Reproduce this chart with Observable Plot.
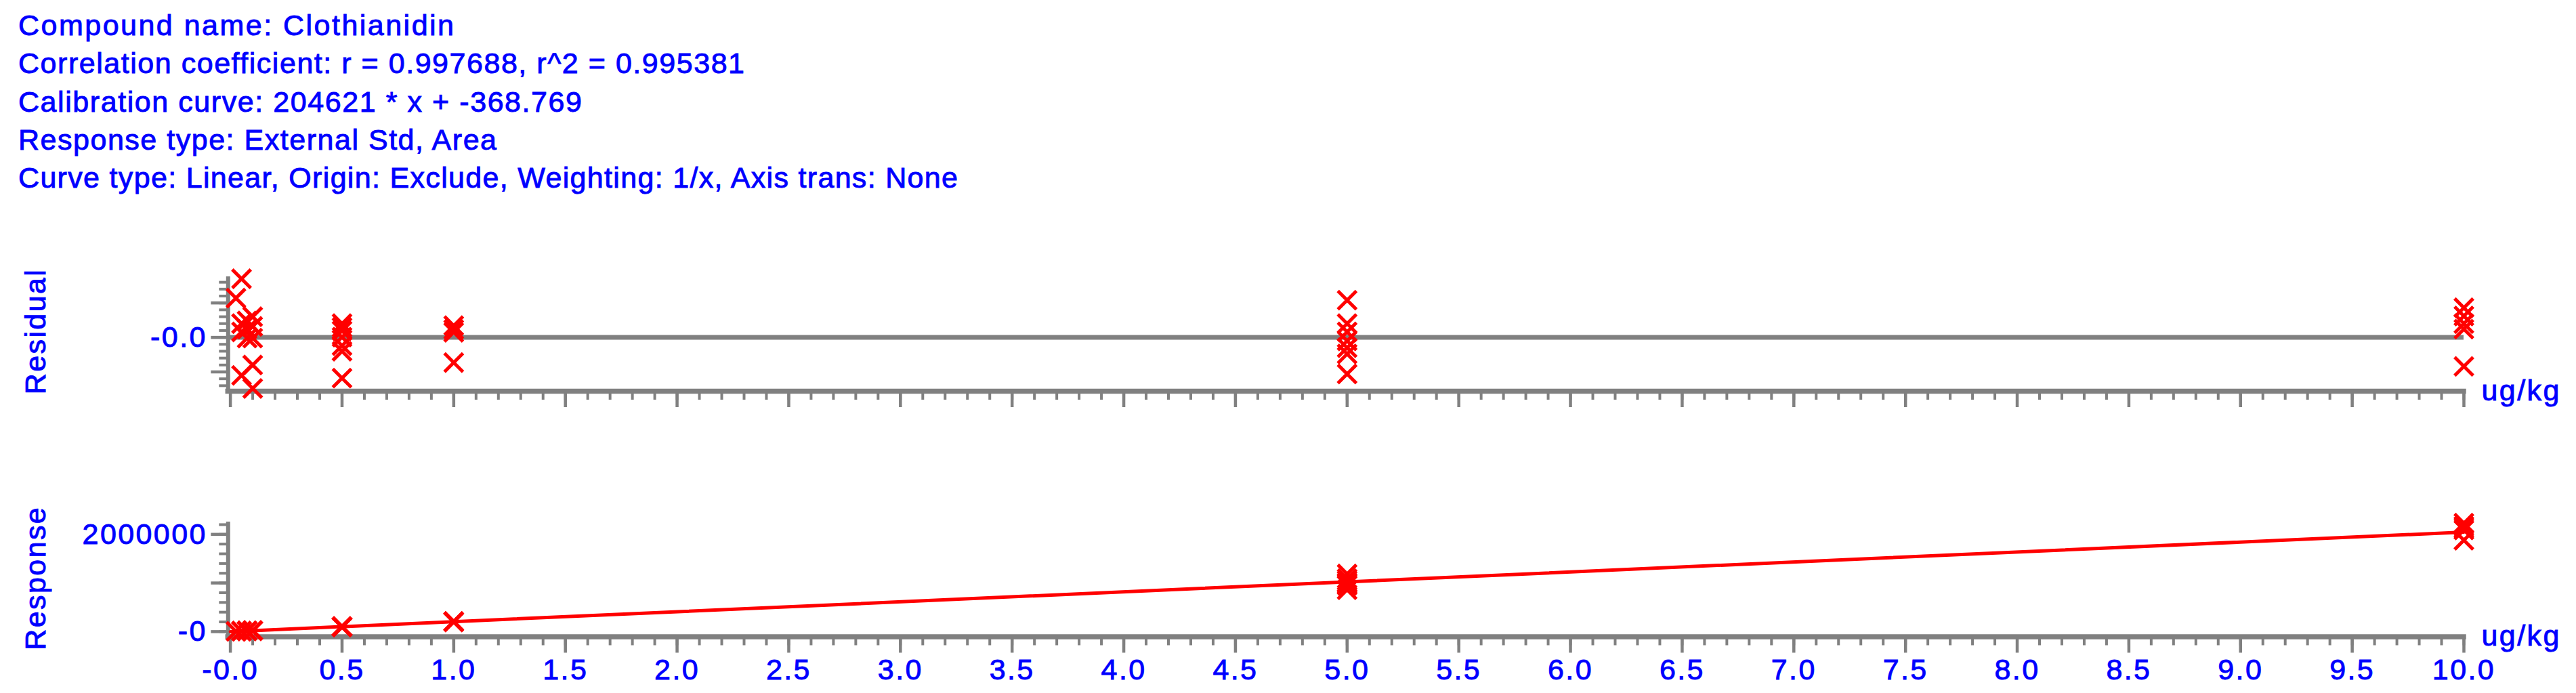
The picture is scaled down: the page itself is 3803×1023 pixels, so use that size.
<!DOCTYPE html>
<html>
<head>
<meta charset="utf-8">
<script src="https://cdn.jsdelivr.net/npm/d3@7"></script>
<script src="https://cdn.jsdelivr.net/npm/@observablehq/plot@0.6"></script>
<style>
html, body { margin: 0; padding: 0; background: #ffffff; }
#root { position: relative; width: 3803px; height: 1023px; overflow: hidden; background: #ffffff; }
#header { position: absolute; left: 0; top: 0; }
#header text { font-family: "Liberation Sans", Arial, sans-serif; font-size: 43px; fill: #0000ff;
  stroke: #0000ff; stroke-width: 0.9px; }
.panel { position: absolute; left: 0; }
.panel svg text { font-family: "Liberation Sans", Arial, sans-serif; font-size: 43px; letter-spacing: 2.4px;
  stroke: #0000ff; stroke-width: 0.9px; }
</style>
</head>
<body>
<div id="root">
  <svg id="header" width="1600" height="300"></svg>
  <div id="residPanel" class="panel" style="top:380px"></div>
  <div id="respPanel" class="panel" style="top:740px"></div>
</div>
<script>
// ---------- data ----------
const headerLines = [
  "Compound name: Clothianidin",
  "Correlation coefficient: r = 0.997688, r^2 = 0.995381",
  "Calibration curve: 204621 * x + -368.769",
  "Response type: External Std, Area",
  "Curve type: Linear, Origin: Exclude, Weighting: 1/x, Axis trans: None"
];

const residConc = [0.025, 0.05, 0.05, 0.05, 0.05, 0.075, 0.075, 0.075,
  0.1, 0.1, 0.1, 0.1, 0.1,
  0.5, 0.5, 0.5, 0.5, 0.5, 0.5, 0.5,
  1, 1, 1, 1,
  5, 5, 5, 5, 5, 5, 5,
  10, 10, 10, 10, 10];
const residValues = [5.7, 8.5, 2.0, 0.8, -5.5, 2.4, 1.2, -0.1,
  3.0, 1.6, -0.1, -4.0, -7.4,
  2.0, 1.45, 0.95, 0.05, -1.2, -2.0, -5.9,
  1.7, 1.15, 0.75, -3.65,
  5.4, 2.0, 0.8, -0.5, -1.5, -2.4, -5.3,
  4.3, 3.1, 2.0, 1.2, -4.2];

const respConc = residConc;
const respValues = [5500, 11200, 10400, 10200, 9600, 15700, 15300, 15200,
  21100, 20700, 20400, 19600, 18900,
  104600, 103700, 103000, 102200, 101000, 100100, 96300,
  207800, 206700, 205800, 196700,
  1185000, 1090000, 1050000, 1010000, 980000, 950000, 860000,
  2230000, 2170000, 2130000, 2090000, 1880000];

const calibConc = [0, 10];
const calibResponse = [-368.769, 2045841.231];

const xMajorTicks = [0, 0.5, 1, 1.5, 2, 2.5, 3, 3.5, 4, 4.5, 5, 5.5, 6, 6.5, 7, 7.5, 8, 8.5, 9, 9.5, 10];
const xMajorLabels = ["-0.0", "0.5", "1.0", "1.5", "2.0", "2.5", "3.0", "3.5", "4.0", "4.5", "5.0",
  "5.5", "6.0", "6.5", "7.0", "7.5", "8.0", "8.5", "9.0", "9.5", "10.0"];
const residMajorTicks = [-5, 0, 5];
const residMajorLabels = ["", "-0.0", ""];
const respMajorTicks = [0, 1000000, 2000000];
const respMajorLabels = ["-0", "", "2000000"];
const residTitle = "Residual";
const respTitle = "Response";
const unitLabel = "ug/kg";

// ---------- layout & style ----------
const GRAY = "#808080", RED = "#ff0000", BLUE = "#0000ff";
const W = 3803, ML = 336.3, MR = 166;
const xDomain = [-0.01, 10];
const residDomain = [-7.8, 8.8];
const respDomain = [-106000, 2255000];
const headerX = 27, headerBaseline0 = 51.7, headerStep = 56.4;
const headerWidths = [643, 1072, 832, 706, 1387];

// header text lines
const header = d3.select("#header");
header.selectAll("text").data(headerLines).join("text")
  .attr("x", headerX)
  .attr("y", (d, i) => headerBaseline0 + i * headerStep)
  .attr("textLength", (d, i) => headerWidths[i])
  .attr("lengthAdjust", "spacing")
  .text(d => d);

const residData = residConc.map((c, i) => ({conc: c, value: residValues[i]}));
const respData = respConc.map((c, i) => ({conc: c, value: respValues[i]}));
const calibData = calibConc.map((c, i) => ({conc: c, value: calibResponse[i]}));

const lookup = (ticks, labels) => d => { const k = ticks.findIndex(t => Math.abs(t - d) < 1e-9); return k < 0 ? "" : labels[k]; };

function xAxes(withLabels) {
  return [
    Plot.axisX({ticks: d3.ticks(0, 10, 100), tickSize: 13, tickFormat: () => "", stroke: GRAY, strokeWidth: 4, label: null}),
    Plot.axisX({ticks: xMajorTicks, tickSize: 24, tickPadding: 8,
      tickFormat: withLabels ? lookup(xMajorTicks, xMajorLabels) : () => "",
      stroke: GRAY, strokeWidth: 4.5, fill: BLUE, fontSize: 43, label: null})
  ];
}

const residPlot = Plot.plot({
  width: W, height: 240, marginLeft: ML, marginRight: MR, marginTop: 28, marginBottom: 43,
  x: {domain: xDomain, label: null},
  y: {domain: residDomain, label: null},
  marks: [
    ...xAxes(false),
    Plot.axisY({ticks: d3.range(-7, 9), tickSize: 13, tickFormat: () => "", stroke: GRAY, strokeWidth: 4, label: null}),
    Plot.axisY({ticks: residMajorTicks, tickSize: 25, tickPadding: 6, tickFormat: lookup(residMajorTicks, residMajorLabels),
      stroke: GRAY, strokeWidth: 4.5, fill: BLUE, fontSize: 43, label: null}),
    Plot.ruleY([0], {stroke: GRAY, strokeWidth: 7}),
    Plot.ruleX([xDomain[0]], {stroke: GRAY, strokeWidth: 6}),
    Plot.ruleY([residDomain[0]], {stroke: GRAY, strokeWidth: 7.5, strokeLinecap: "square"}),
    Plot.text([residTitle], {frameAnchor: "left", rotate: -90, dx: -270, dy: -4, lineAnchor: "bottom", textAnchor: "middle", fill: BLUE, fontSize: 43}),
    Plot.text([unitLabel], {frameAnchor: "bottom-right", dx: 26, dy: 13, lineAnchor: "bottom", textAnchor: "start", fill: BLUE, fontSize: 43}),
    Plot.dot(residData, {x: "conc", y: "value", symbol: "times", r: 12.5, stroke: RED, strokeWidth: 5})
  ]
});
document.getElementById("residPanel").appendChild(residPlot);

const respPlot = Plot.plot({
  width: W, height: 283, marginLeft: ML, marginRight: MR, marginTop: 30, marginBottom: 83.5,
  x: {domain: xDomain, label: null},
  y: {domain: respDomain, label: null},
  marks: [
    ...xAxes(true),
    Plot.axisY({ticks: d3.ticks(0, 2200000, 11), tickSize: 13, tickFormat: () => "", stroke: GRAY, strokeWidth: 4, label: null}),
    Plot.axisY({ticks: respMajorTicks, tickSize: 25, tickPadding: 6, tickFormat: lookup(respMajorTicks, respMajorLabels),
      stroke: GRAY, strokeWidth: 4.5, fill: BLUE, fontSize: 43, label: null}),
    Plot.ruleX([xDomain[0]], {stroke: GRAY, strokeWidth: 6}),
    Plot.ruleY([respDomain[0]], {stroke: GRAY, strokeWidth: 7.5, strokeLinecap: "square"}),
    Plot.text([respTitle], {frameAnchor: "left", rotate: -90, dx: -270, dy: -2, lineAnchor: "bottom", textAnchor: "middle", fill: BLUE, fontSize: 43}),
    Plot.text([unitLabel], {frameAnchor: "bottom-right", dx: 26, dy: 13, lineAnchor: "bottom", textAnchor: "start", fill: BLUE, fontSize: 43}),
    Plot.line(calibData, {x: "conc", y: "value", stroke: RED, strokeWidth: 5}),
    Plot.dot(respData, {x: "conc", y: "value", symbol: "times", r: 12.5, stroke: RED, strokeWidth: 5})
  ]
});
document.getElementById("respPanel").appendChild(respPlot);
</script>
</body>
</html>
